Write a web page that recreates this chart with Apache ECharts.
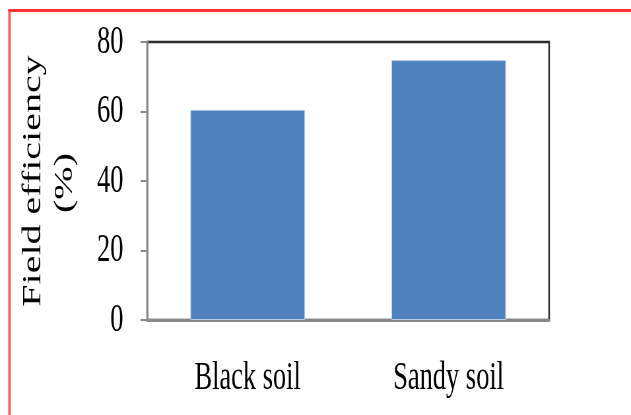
<!DOCTYPE html>
<html>
<head>
<meta charset="utf-8">
<script src="https://cdn.jsdelivr.net/npm/echarts@6/dist/echarts.min.js"></script>
<style>
  html, body { margin: 0; padding: 0; background: #ffffff; overflow: hidden; }
  #chart { width: 956px; height: 415px; transform: scaleX(0.66); transform-origin: 0 0; }
</style>
</head>
<body>
<div id="chart"></div>
<script>
const categories = ['Black soil', 'Sandy soil'];
const efficiency = [60.5, 74.8];
const yTicks = [0, 20, 40, 60, 80];
const titleLines = ['Field efficiency', '(%)'];

const serif = '"Liberation Serif", "Times New Roman", serif';
const chart = echarts.init(document.getElementById('chart'));
chart.setOption({
  animation: false,
  backgroundColor: '#ffffff',
  grid: {
    left: 223, right: 124, top: 42, bottom: 95,
    show: true, borderColor: '#2b2b2b', borderWidth: 2.5, backgroundColor: 'transparent'
  },
  xAxis: {
    type: 'category',
    data: categories,
    axisLine: { lineStyle: { color: '#898989', width: 3 } },
    axisTick: { show: false },
    axisLabel: { color: '#000', fontFamily: serif, fontSize: 40, margin: 38 }
  },
  yAxis: {
    type: 'value',
    min: yTicks[0], max: yTicks[yTicks.length - 1], interval: yTicks[1] - yTicks[0],
    axisLine: { show: true, lineStyle: { color: '#898989', width: 3 } },
    axisTick: { show: true, inside: false, length: 10, lineStyle: { color: '#898989', width: 2 } },
    splitLine: { show: false },
    axisLabel: { color: '#000', fontFamily: serif, fontSize: 40, margin: 36 }
  },
  series: [{
    type: 'bar',
    data: efficiency,
    barWidth: '57%',
    itemStyle: { color: '#4F81BD', borderColor: '#B9CDE5', borderWidth: 1 }
  }],
  graphic: [
    { type: 'line', shape: { x1: 14.4, y1: 9, x2: 14.4, y2: 415 }, style: { stroke: '#ff5c5c', lineWidth: 3.8 } },
    { type: 'line', shape: { x1: 12.5, y1: 10.5, x2: 956, y2: 10.5 }, style: { stroke: '#ff3535', lineWidth: 3 } },
    { type: 'text', x: 50, y: 181, rotation: Math.PI / 2,
      style: { text: titleLines[0], fontFamily: serif, fontSize: 40, fill: '#000', align: 'center', verticalAlign: 'middle' } },
    { type: 'text', x: 98, y: 183, rotation: Math.PI / 2,
      style: { text: titleLines[1], fontFamily: serif, fontSize: 40, fill: '#000', align: 'center', verticalAlign: 'middle' } }
  ]
});
</script>
</body>
</html>
